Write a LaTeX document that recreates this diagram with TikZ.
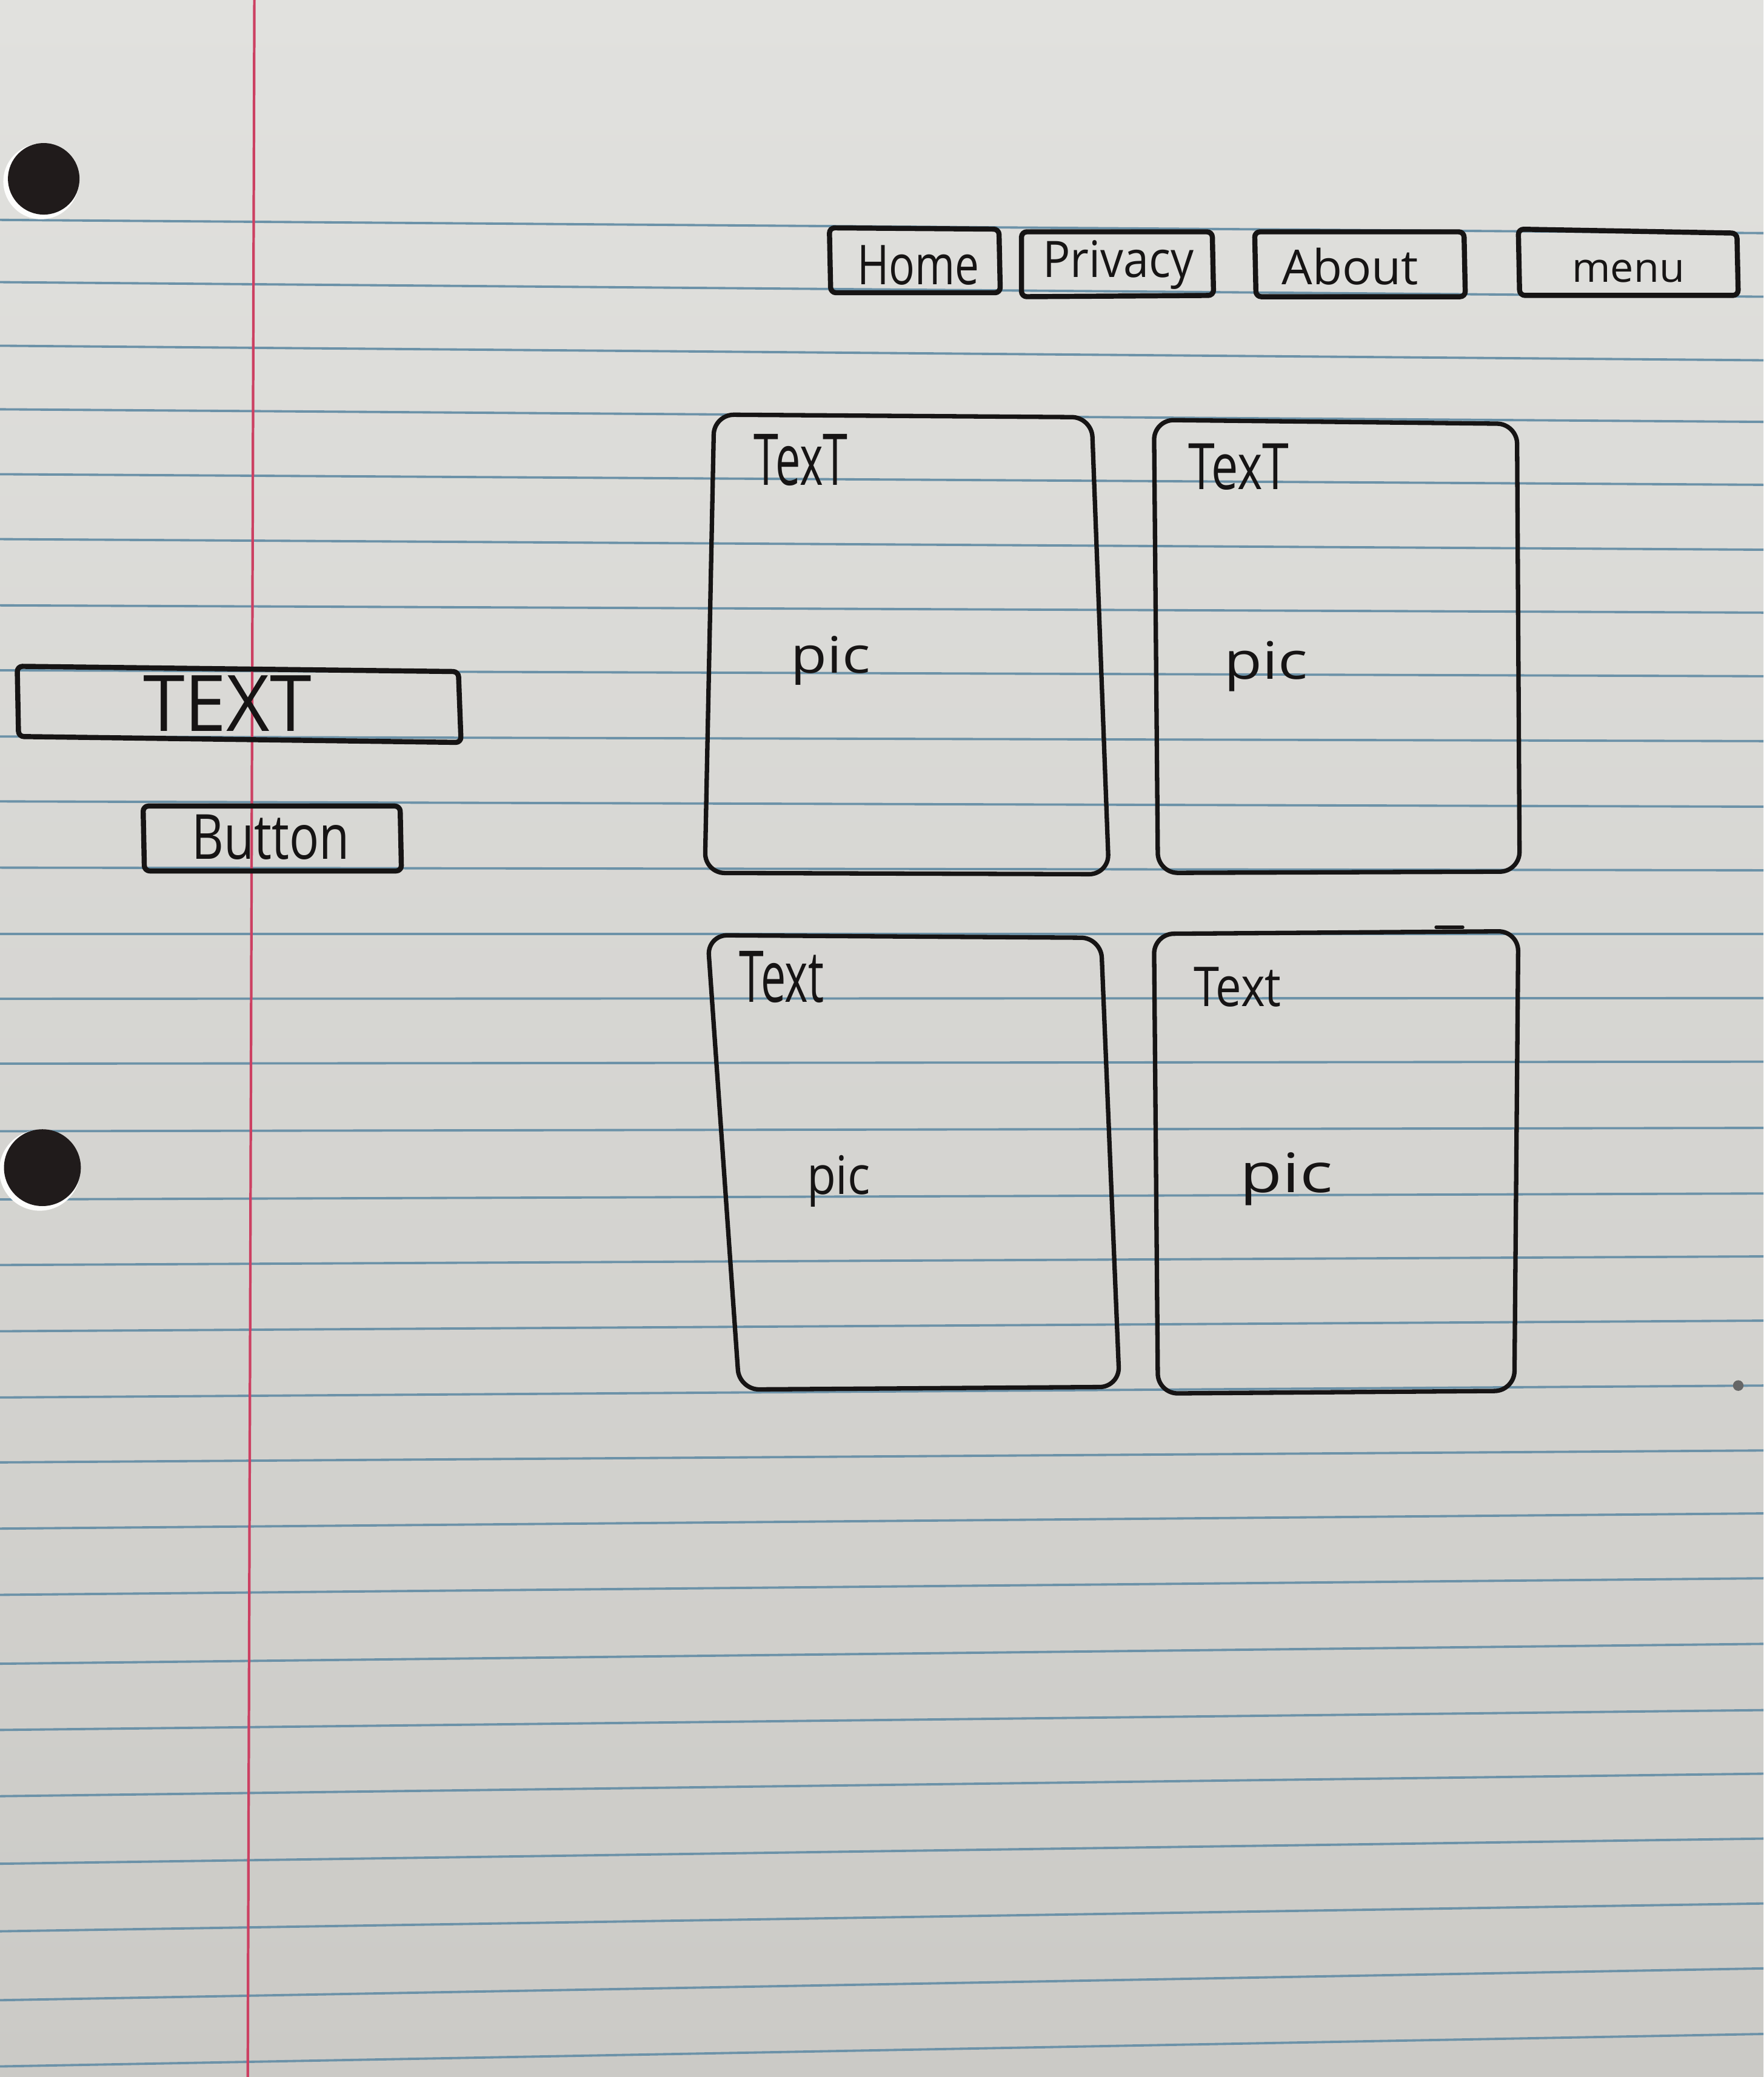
\documentclass[tikz,border=0pt]{standalone}
\usepackage{fontspec}
\setmainfont{Open Sans}
\usepackage{graphicx}

% one drawing unit, used to size the hand-lettered labels
\newlength\pxu
\setlength\pxu{0.02cm}
% \hand{ink width}{ink height}{text}
\newcommand\hand[3]{\resizebox*{#1\pxu}{#2\pxu}{#3}}

\definecolor{paperTop}{RGB}{225,225,222}
\definecolor{paperBot}{RGB}{203,202,198}
\definecolor{rule}{RGB}{108,146,168}
\definecolor{margin}{RGB}{204,64,98}
\definecolor{ink}{RGB}{22,20,20}
\definecolor{hole}{RGB}{32,27,27}

\begin{document}
\begin{tikzpicture}[x=0.02cm,y=-0.02cm,
  navbox/.style={draw=ink,line width=2.2pt,rounded corners=0.08cm,line join=round},
  cardbox/.style={draw=ink,line width=1.9pt,rounded corners=0.3cm,line join=round},
  lbl/.style={inner sep=0pt,outer sep=0pt,text=ink,anchor=center},
  ruled/.style={draw=rule,line width=1pt},
  punch/.style={fill=hole,draw=none}]

% sheet of paper
\shade[top color=paperTop,bottom color=paperBot] (0,0) rectangle (1331,1568);
\useasboundingbox (0,0) rectangle (1331,1568);

% ruled lines (left height / right height)
\foreach \l/\r in {166/176,213/224,261/272,309/318.5,358/366,407/415,457/462.5,
  506/510.5,556/559.5,605/609,655/657,705/705,754/753.5,803/801.5,854/851.5,
  905.5/901,955/948.5,1005/997,1055/1046,1104/1095,1154/1142.5,1204/1191.5,
  1256/1241,1306/1291,1356/1339,1407/1388,1458/1437,1510/1486,1560/1535.5}
  \draw[ruled] (0,\l) -- (1331,\r);

% margin line
\draw[margin,line width=1.1pt] (192,0) -- (187,1568);

% binder holes
\fill[white!92!paperTop] (31,137) circle (28.5);
\fill[punch] (33,135) circle (27);
\fill[white!92!paperTop] (30,883.5) circle (30.5);
\fill[punch] (32,881.5) circle (29);

% speck near the right edge
\fill[black!60] (1312,1046) circle (4);

% navigation bar
\draw[navbox] (626,172) -- (754,173) -- (755,221) -- (627,221) -- cycle;
\draw[navbox] (771,175) -- (915,175) -- (916,223) -- (771,224) -- cycle;
\draw[navbox] (947,175) -- (1105,175) -- (1106,224) -- (948,224) -- cycle;
\draw[navbox] (1146,173) -- (1311,176) -- (1312,223) -- (1147,223) -- cycle;
\node[lbl] (home)    at (693,200)  {\hand{92}{30}{Home}};
\node[lbl] (privacy) at (844,200)  {\hand{114}{37}{Privacy}};
\node[lbl] (about)   at (1019,201) {\hand{103}{28}{About}};
\node[lbl] (menu)    at (1229,205) {\hand{85}{17}{menu}};

% left column: heading bar and button
\draw[navbox] (13,503) -- (346,507) -- (348,560.5) -- (14,556) -- cycle;
\node[lbl] (heading) at (171.5,531) {\hand{127}{42}{TEXT}};
\draw[navbox] (108,608.5) -- (302,608.5) -- (303,657.5) -- (109,657.5) -- cycle;
\node[lbl] (button) at (204.5,632) {\hand{119}{34}{Button}};

% cards
\draw[cardbox] (539,313) -- (824,315) -- (837,660) -- (532,659) -- cycle;
\node[lbl] (t1) at (604.5,347.5) {\hand{71}{39}{TexT}};
\node[lbl] (p1) at (627,498.5)   {\hand{60}{37}{pic}};

\draw[cardbox] (871,317) -- (1145,320) -- (1147,658) -- (874,659) -- cycle;
\node[lbl] (t2) at (935,352.5) {\hand{76}{35}{TexT}};
\node[lbl] (p2) at (955.5,503) {\hand{63}{38}{pic}};

\draw[cardbox] (534,706) -- (831,708) -- (845,1047) -- (558,1049) -- cycle;
\node[lbl] (t3) at (590,737.5) {\hand{64}{39}{Text}};
\node[lbl] (p3) at (633,891.5) {\hand{48}{39}{pic}};

\draw[cardbox] (871,705) -- (1146,703) -- (1143,1050) -- (874,1052) -- cycle;
\draw[ink,line width=1.5pt,line cap=round] (1084,700) -- (1104,700);
\node[lbl] (t4) at (934,745) {\hand{66}{30}{Text}};
\node[lbl] (p4) at (971,890) {\hand{70}{40}{pic}};

\end{tikzpicture}
\end{document}
